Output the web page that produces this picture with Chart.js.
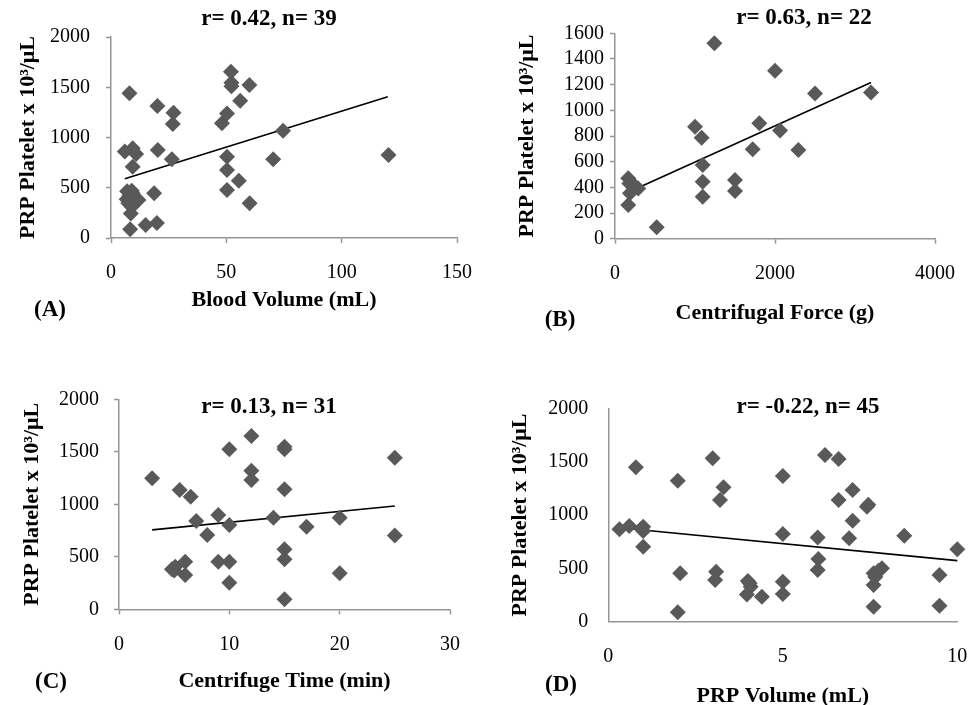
<!DOCTYPE html>
<html>
<head>
<meta charset="utf-8">
<script src="https://cdn.jsdelivr.net/npm/chart.js@4.4.1/dist/chart.umd.min.js"></script>
<style>
  html, body { margin: 0; padding: 0; background: #fff; overflow: hidden; }
  #page { position: relative; width: 969px; height: 705px; }
  canvas { position: absolute; }
</style>
</head>
<body>
<div id="page">
  <canvas id="chartA" width="485" height="345" style="left:0;top:0"></canvas>
  <canvas id="chartB" width="484" height="345" style="left:485px;top:0"></canvas>
  <canvas id="chartC" width="485" height="360" style="left:0;top:345px"></canvas>
  <canvas id="chartD" width="484" height="360" style="left:485px;top:345px"></canvas>
</div>
<script>
// (A) blood volume vs PRP platelet count
const bloodVolume = [8, 6, 9.4, 10.9, 9.4, 8.3, 15, 19.9, 18.7, 20.3, 20.1, 27.1, 26.8, 26.4,
  48.1, 50.3, 52, 52.2, 52.2, 56, 60, 50.3, 50.3, 50.3, 55.4, 60.1, 70.3, 74.6, 120.3,
  6.8, 9.4, 8.6, 10.4, 7.5, 11.9, 9, 7, 8, 9];
const plateletA = [1440, 860, 892, 836, 710, 86, 130, 150, 445, 876, 1313, 1247, 1134, 783,
  1141, 1240, 1655, 1546, 1510, 1366, 1522, 809, 677, 478, 570, 345, 783, 1068, 826,
  385, 445, 245, 385, 345, 378, 311, 465, 420, 470];
const trendA = [[6, 590], [120, 1405]];

// (B) centrifugal force vs PRP platelet count
const centrifugalForce = [166, 180, 291, 187, 166, 250, 521, 1000, 1083, 1096, 1096, 1096, 1242,
  1500, 1500, 1721, 1804, 2000, 2063, 2292, 2500, 3200];
const plateletB = [470, 430, 392, 354, 262, 410, 90, 873, 787, 574, 444, 327, 1522,
  457, 371, 696, 899, 1309, 842, 691, 1132, 1138];
const trendB = [[179, 366], [3200, 1216]];

// (C) centrifuge time vs PRP platelet count
const centrifugeTime = [3, 5.5, 6.5, 7, 8, 4.8, 5.1, 5, 6, 6, 9, 9, 10, 10, 10, 10, 12, 12, 12,
  14, 15, 15, 15, 15, 15, 15, 17, 20, 20, 25, 25];
const plateletC = [1248, 1137, 1073, 841, 708, 381, 406, 370, 454, 327, 898, 454, 1524, 803, 454, 254,
  1651, 1320, 1232, 873, 1549, 1524, 1143, 571, 476, 95, 787, 873, 343, 1444, 702];
const trendC = [[3, 756], [25, 984]];

// (D) PRP volume vs PRP platelet count
const prpVolume = [0.32, 0.6, 1.0, 1.0, 1.0, 0.95, 0.79, 1.99, 2.06, 1.99, 2.99, 3.3, 3.2, 3.09, 3.06,
  4.0, 4.08, 4.05, 3.97, 4.4, 5, 5, 5, 5, 6.0, 6.02, 6.0, 6.21, 6.6, 6.6, 7.0, 7.0, 6.9,
  7.41, 7.45, 7.6, 7.84, 7.74, 7.65, 7.6, 7.6, 8.48, 9.49, 9.49, 10.0];
const plateletD = [866, 897, 891, 850, 703, 870, 1447, 1322, 453, 88, 1531, 1259, 1141, 469, 391,
  381, 328, 360, 256, 234, 1366, 822, 375, 259, 788, 588, 484, 1563, 1525, 1141, 1234, 947, 781,
  1078, 1095, 453, 500, 478, 420, 344, 141, 806, 438, 150, 678];
const trendD = [[0.32, 881], [10, 572]];

const yTitle = 'PRP Platelet x 10³/μL';
const serif = '"Liberation Serif", "Times New Roman", serif';
const axisGrey = '#969696';
const markGrey = '#595959';

function toPoints(xs, ys) {
  return xs.map((x, i) => ({ x: x, y: ys[i] }));
}

// draws the "r= .., n= .." heading and the (A)..(D) label
const panelText = {
  id: 'panelText',
  afterDraw(chart, args, opts) {
    let ctx = chart.ctx;
    ctx.save();
    ctx.fillStyle = '#000';
    ctx.font = 'bold 23px ' + serif;
    ctx.textAlign = 'center';
    ctx.textBaseline = 'middle';
    ctx.fillText(opts.title, opts.titleX, opts.titleY);
    ctx.fillText(opts.label, opts.labelX, opts.labelY);
    ctx.restore();
  }
};

function makePanel(id, p)
{
  return new Chart(document.getElementById(id), {
    type: 'scatter',
    data: {
      datasets: [{
        data: toPoints(p.xs, p.ys),
        pointStyle: 'rectRot',
        pointRadius: 8,
        pointHoverRadius: 8,
        backgroundColor: markGrey,
        borderColor: markGrey,
        borderWidth: 0,
        clip: false
      }, {
        type: 'line',
        data: p.trend.map(t => ({ x: t[0], y: t[1] })),
        borderColor: '#000',
        borderWidth: 1.6,
        pointRadius: 0,
        fill: false,
        clip: false
      }]
    },
    options: {
      responsive: false,
      animation: false,
      events: [],
      layout: { padding: { left: 0, bottom: 0, top: p.padTop, right: p.padRight } },
      plugins: {
        legend: { display: false },
        tooltip: { enabled: false },
        panelText: p.text
      },
      scales: {
        x: {
          type: 'linear',
          min: p.xMin, max: p.xMax,
          // fixed box, and no extra room asked for the end labels
          afterFit: s => { s.height = p.xHeight; s.paddingLeft = 0; s.paddingRight = 0; },
          border: { color: axisGrey, width: 1.5 },
          grid: { drawOnChartArea: false, tickLength: 5, tickColor: p.tickColor, tickWidth: 1.5 },
          ticks: { stepSize: p.xStep, color: '#000', padding: 18, maxRotation: 0, autoSkip: false,
                   callback: v => String(v),
                   font: { family: serif, size: 20 } },
          title: { display: true, text: p.xTitle, color: '#000',
                   padding: { top: 0, bottom: p.xTitlePad },
                   font: { family: serif, size: 22, weight: 'bold' } }
        },
        y: {
          min: 0, max: p.yMax,
          afterFit: s => { s.width = p.yWidth; s.paddingTop = 0; s.paddingBottom = 0; },
          border: { color: axisGrey, width: 1.5 },
          grid: { drawOnChartArea: false, tickLength: 5, tickColor: p.tickColor, tickWidth: 1.5 },
          ticks: { stepSize: p.yStep, color: '#000', padding: p.yTickPad, autoSkip: false,
                   callback: v => String(v),
                   font: { family: serif, size: 20 } },
          title: { display: true, text: yTitle, color: '#000',
                   padding: { top: p.yTitlePad, bottom: 0 },
                   font: { family: serif, size: 22, weight: 'bold' } }
        }
      }
    },
    plugins: [panelText]
  });
}

makePanel('chartA', {
  xs: bloodVolume, ys: plateletA, trend: trendA,
  xMin: 0, xMax: 150, xStep: 50, yMax: 2000, yStep: 500,
  xTitle: 'Blood Volume (mL)',
  padTop: 37, padRight: 28, yWidth: 111, xHeight: 107,
  yTickPad: 16, yTitlePad: 14.8, xTitlePad: 31.8, tickColor: axisGrey,
  text: { title: 'r= 0.42, n= 39', titleX: 269, titleY: 19, label: '(A)', labelX: 50, labelY: 310 }
});

makePanel('chartB', {
  xs: centrifugalForce, ys: plateletB, trend: trendB,
  xMin: 0, xMax: 4000, xStep: 2000, yMax: 1600, yStep: 200,
  xTitle: 'Centrifugal Force (g)',
  padTop: 33.3, padRight: 34, yWidth: 130, xHeight: 106.3,
  yTickPad: 6, yTitlePad: 28.8, xTitlePad: 18.8, tickColor: axisGrey,
  text: { title: 'r= 0.63, n= 22', titleX: 319, titleY: 18, label: '(B)', labelX: 75, labelY: 320 }
});

makePanel('chartC', {
  xs: centrifugeTime, ys: plateletC, trend: trendC,
  xMin: 0, xMax: 30, xStep: 10, yMax: 2000, yStep: 500,
  xTitle: 'Centrifuge Time (min)',
  padTop: 54.3, padRight: 35, yWidth: 119, xHeight: 95.7,
  yTickPad: 15, yTitlePad: 18.8, xTitlePad: 10.1, tickColor: axisGrey,
  text: { title: 'r= 0.13, n= 31', titleX: 269, titleY: 61.7, label: '(C)', labelX: 51, labelY: 336.7 }
});

makePanel('chartD', {
  xs: prpVolume, ys: plateletD, trend: trendD,
  xMin: 0, xMax: 10, xStep: 5, yMax: 2000, yStep: 500,
  xTitle: 'PRP Volume (mL)',
  padTop: 63.3, padRight: 11.7, yWidth: 123.3, xHeight: 83.3,
  yTickPad: 15, yTitlePad: 21.8, xTitlePad: -4.9, tickColor: 'rgba(0,0,0,0)',
  text: { title: 'r= -0.22, n= 45', titleX: 323, titleY: 61.7, label: '(D)', labelX: 76, labelY: 340 }
});
</script>
</body>
</html>
